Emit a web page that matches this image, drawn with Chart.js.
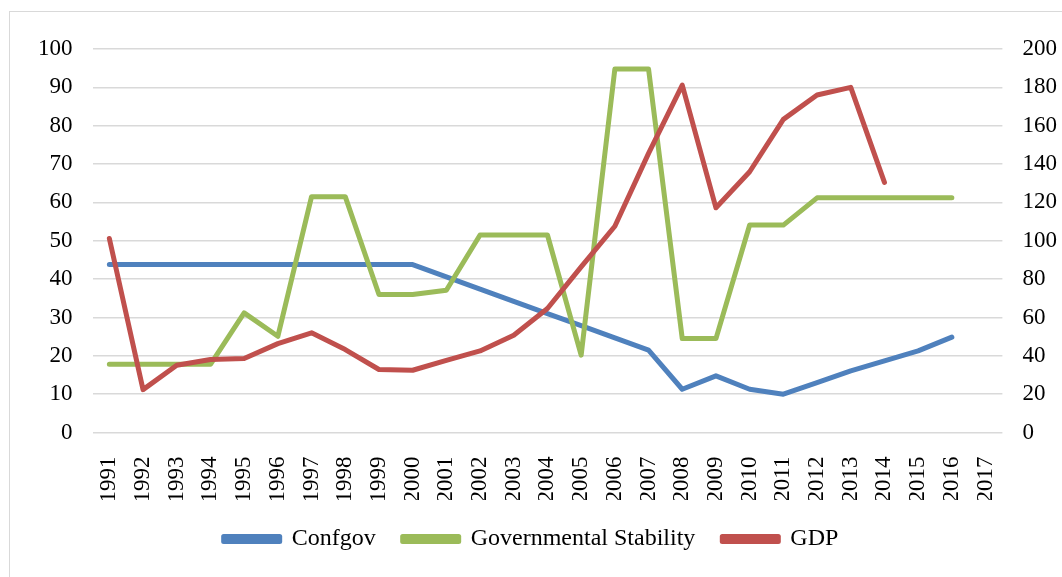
<!DOCTYPE html>
<html>
<head>
<meta charset="utf-8">
<script src="https://cdn.jsdelivr.net/npm/chart.js@4"></script>
<style>
  html, body { margin: 0; padding: 0; background: #fff; overflow: hidden; }
  #wrap { position: relative; width: 1062px; height: 577px; }
  #frame { position: absolute; left: 9px; top: 11px; width: 1100px; height: 620px; border: 1px solid #d9d9d9; }
  #graph { position: absolute; left: 0; top: 0; }
</style>
</head>
<body>
<div id="wrap">
  <div id="frame"></div>
  <canvas id="graph" width="1062" height="577"></canvas>
</div>
<script>
// categories
const years = ["1991","1992","1993","1994","1995","1996","1997","1998","1999","2000",
  "2001","2002","2003","2004","2005","2006","2007","2008","2009","2010",
  "2011","2012","2013","2014","2015","2016","2017"];

// series (left axis)
const confgov = [43.8,43.8,43.8,43.8,43.8,43.8,43.8,43.8,43.8,43.8,
  40.6,37.4,34.2,31.0,27.9,24.7,21.5,11.3,14.8,11.3,
  10.0,13.0,16.1,18.7,21.3,24.9,null];
const govStability = [17.8,17.8,17.8,17.8,31.2,25.1,61.5,61.5,36.0,36.0,
  37.1,51.5,51.5,51.5,20.2,94.8,94.8,24.5,24.5,54.1,
  54.1,61.2,61.2,61.2,61.2,61.2,null];
// series (right axis)
const gdp = [101.2,22.4,35.1,38.1,38.6,46.4,52.0,43.3,32.9,32.5,
  37.7,42.6,50.8,64.7,86.4,107.6,145.6,181.2,117.2,136.0,
  163.3,176.0,180.0,130.5,null,null,null];

const SERIF = "'Liberation Serif', 'Times New Roman', serif";
const FONT = { family: SERIF, size: 23 };
const GRID = "#d9d9d9";

function line(label, data, color, axis, order) {
  return {
    label: label, data: data, yAxisID: axis, order: order,
    borderColor: color, backgroundColor: color,
    borderWidth: 5, pointRadius: 0, tension: 0,
    borderJoinStyle: "round", borderCapStyle: "round",
    spanGaps: false
  };
}

new Chart(document.getElementById("graph"), {
  type: "line",
  data: {
    labels: years,
    datasets: [
      line("Confgov", confgov, "#4f81bd", "y", 3),
      line("Governmental Stability", govStability, "#9bbb59", "y", 2),
      line("GDP", gdp, "#c0504d", "y1", 1)
    ]
  },
  options: {
    responsive: false,
    animation: false,
    layout: { padding: { top: 49, left: 0, right: 0, bottom: 16 } },
    plugins: {
      tooltip: { enabled: false },
      legend: {
        position: "bottom",
        labels: {
          font: { family: SERIF, size: 24 }, color: "#000",
          boxWidth: 56, boxHeight: 5, padding: 27,
          sort: (a, b) => a.datasetIndex - b.datasetIndex
        }
      }
    },
    scales: {
      x: {
        offset: true,
        grid: { display: false },
        border: { display: false },
        ticks: { font: FONT, color: "#000", maxRotation: 90, minRotation: 90, padding: 16, autoSkip: false },
        afterFit: s => { s.height = 67.4; }
      },
      y: {
        position: "left", min: 0, max: 100,
        grid: { color: GRID, lineWidth: 1.5, drawTicks: false },
        border: { display: false },
        ticks: { stepSize: 10, font: FONT, color: "#000", padding: 20 },
        afterFit: s => { s.width = 92.5; }
      },
      y1: {
        position: "right", min: 0, max: 200,
        grid: { drawOnChartArea: false, drawTicks: false },
        border: { display: false },
        ticks: { stepSize: 20, font: FONT, color: "#000", padding: 20 },
        afterFit: s => { s.width = 59.6; }
      }
    }
  }
});
</script>
</body>
</html>
